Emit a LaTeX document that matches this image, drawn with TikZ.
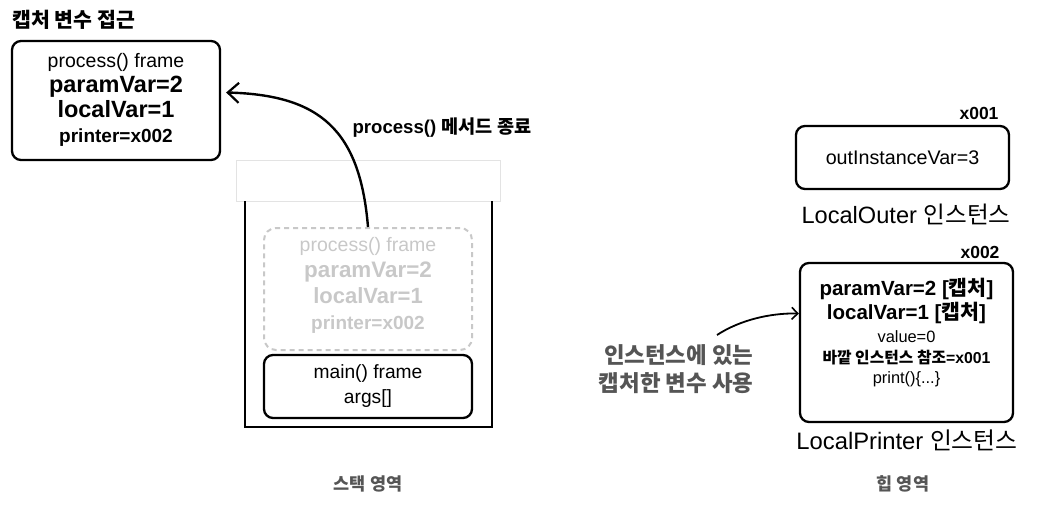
\documentclass[tikz,border=0pt]{standalone}
\usepackage{fontspec}
\setmainfont{Liberation Sans}
\newfontfamily\krfont{Noto Sans CJK KR}
\newcommand{\ko}[1]{{\krfont #1}}
\usetikzlibrary{arrows.meta}

\definecolor{labelgray}{HTML}{555555}
\definecolor{fadegray}{HTML}{C8C8C8}
\definecolor{lidgray}{HTML}{E3E3E3}

\tikzset{
  framebox/.style={draw, line width=2.3pt, rounded corners=9pt, inner sep=0pt},
  fadebox/.style={draw=fadegray, line width=2pt, dashed, dash pattern=on 5pt off 4pt, rounded corners=12pt, inner sep=0pt},
  areatext/.style={text=labelgray, font=\bfseries\fontsize{17.5}{20}\selectfont},
  addrtext/.style={font=\bfseries\fontsize{17.5}{20}\selectfont, anchor=east},
  sketcharrow/.style={line width=2.4pt, -{Straight Barb[length=11pt, width=20pt, line width=2.2pt]}},
}

\begin{document}
\begin{tikzpicture}[x=1pt, y=-1pt]
        \useasboundingbox (0,0) rectangle (1045,511);

        % Captured frame (top left)
        \node[anchor=west, font=\bfseries\fontsize{20.5}{23}\selectfont] (title) at (9,20) {\ko{캡처 변수 접근}};
        \node[framebox, minimum width=208pt, minimum height=119pt] (captured) at (116,100.5) {};
        \node[align=center, font=\fontsize{23.5}{24.8}\selectfont] (capturedtext) at (116,100)
          {{\fontsize{19.5}{24.8}\selectfont process() frame}\\
           \textbf{paramVar=2}\\
           \textbf{localVar=1}\\
           {\bfseries\fontsize{19}{24.8}\selectfont printer=x002}};

        % Stack area
        \draw[lidgray, line width=1pt] (236,160) rectangle (500,201);
        \draw[line width=2.4pt] (245,201) -- (245,427) -- (492,427) -- (492,201);
        \node[fadebox, minimum width=208pt, minimum height=122pt] (gone) at (368,289) {};
        \node[align=center, text=fadegray, font=\bfseries\fontsize{22.4}{26}\selectfont] (gonetext) at (368,285)
          {{\mdseries\fontsize{19.5}{26}\selectfont process() frame}\\
           paramVar=2\\
           {\fontsize{22}{26}\selectfont localVar=1}\\
           {\fontsize{19}{26}\selectfont printer=x002}};
        \node[framebox, minimum width=208pt, minimum height=63pt, align=center, font=\fontsize{19.2}{25}\selectfont] (main) at (368,386.5)
          {main() frame\\ args[]};
        \node[areatext] (stacklabel) at (368,484) {\ko{스택 영역}};

        % Frame pops off
        \draw[sketcharrow] (gone.north) .. controls (360,130) and (320,95) .. ([xshift=5pt, yshift=8pt]captured.east);
        \node[anchor=west, font=\bfseries\fontsize{18.6}{21}\selectfont] (poplabel) at (349,128) {process() \ko{메서드 종료}};

        % Heap area
        \node[addrtext] (addrouter) at (1002,113) {x001};
        \node[framebox, minimum width=213pt, minimum height=63pt, font=\fontsize{19.7}{22}\selectfont] (outer) at (902.5,157.5) {outInstanceVar=3};
        \node[font=\fontsize{23.6}{26}\selectfont] (outerlabel) at (906,214) {LocalOuter \ko{인스턴스}};

        \node[addrtext] (addrprinter) at (1003,252) {x002};
        \node[framebox, minimum width=213pt, minimum height=159pt] (printer) at (906.5,342.5) {};
        \node[align=center, font=\bfseries\fontsize{20.5}{24}\selectfont] (printertext) at (906.5,300.5)
          {paramVar=2 [\ko{캡처}]\\
           localVar=1 [\ko{캡처}]};
        \node[align=center, font=\fontsize{16.4}{20.5}\selectfont] (printermore) at (906.5,359)
          {value=0\\
           \textbf{\fontsize{15.8}{20.5}\selectfont\ko{바깥 인스턴스 참조}=x001}\\
           print()\{...\}};
        \node[font=\fontsize{23.8}{26}\selectfont] (printerlabel) at (907,440) {LocalPrinter \ko{인스턴스}};
        \node[areatext] (heaplabel) at (903,484) {\ko{힙 영역}};

        % Captured values are read from the instance
        \node[anchor=east, align=right, text=labelgray, font=\bfseries\fontsize{22.4}{28}\selectfont] (usenote) at (757,369)
          {\ko{인스턴스에 있는}\\ \ko{캡처한 변수 사용}};
        \coordinate (usestart) at (717,335);
        \draw[line width=1.8pt, -{Straight Barb[length=6pt, width=12pt, line width=1.6pt]}] (usestart) .. controls (740,320) and (770,313) .. ([yshift=29pt]printer.west);
    \end{tikzpicture}
\end{document}
